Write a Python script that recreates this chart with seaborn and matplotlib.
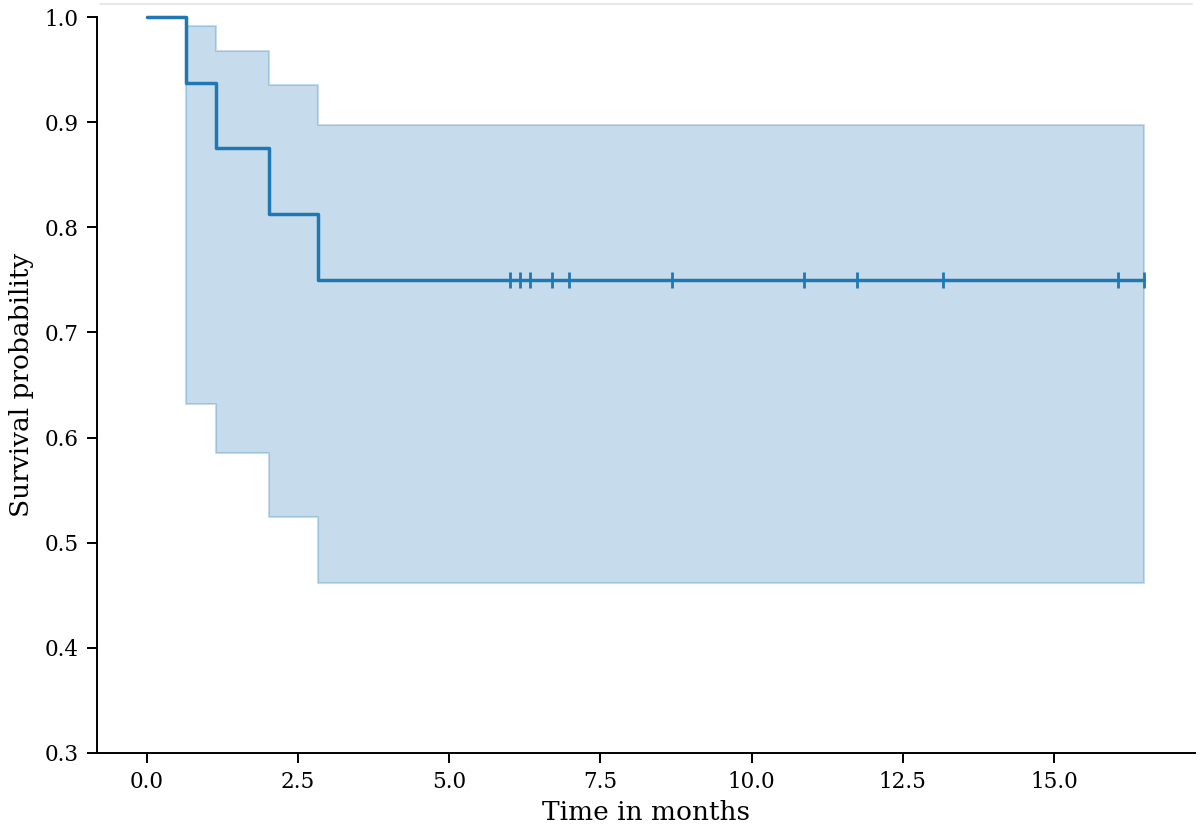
import numpy as np
import pandas as pd
import matplotlib
matplotlib.use("Agg")
import matplotlib.pyplot as plt
import seaborn as sns

# Kaplan-Meier estimate
step_times = [0.0, 0.65, 1.15, 2.02, 2.83, 16.49]
survival = [1.0, 0.9375, 0.875, 0.8125, 0.75, 0.75]
ci_upper = [1.0, 0.991, 0.968, 0.935, 0.897, 0.897]
ci_lower = [1.0, 0.632, 0.585, 0.524, 0.462, 0.462]

# censored observations
censor_times = [6.01, 6.17, 6.34, 6.70, 6.99, 8.69, 10.87, 11.74, 13.16, 16.05, 16.49]
censor_surv = [0.75] * len(censor_times)

sns.set_style("ticks")
plt.rcParams["font.family"] = ["DejaVu Serif"]
plt.rcParams["text.color"] = "black"
plt.rcParams["axes.labelcolor"] = "black"
plt.rcParams["xtick.color"] = "black"
plt.rcParams["ytick.color"] = "black"

blue = "#1f77b4"

fig = plt.figure(figsize=(12, 8.31), dpi=100)
ax = fig.add_axes([0.0808, 0.0939, 0.915, 0.8856])

df = pd.DataFrame({"time": step_times, "surv": survival})
cens = pd.DataFrame({"time": censor_times, "surv": censor_surv})

ax.fill_between(step_times, ci_lower, ci_upper, step="post", color=blue,
                alpha=0.25, linewidth=1.5, clip_on=False)
sns.lineplot(data=df, x="time", y="surv", drawstyle="steps-post", estimator=None,
             color=blue, linewidth=2.5, ax=ax, clip_on=False)
sns.scatterplot(data=cens, x="time", y="surv", marker="|", s=120, linewidth=2,
                color=blue, ax=ax, zorder=3)

ax.set_xlim(-0.82, 17.33)
ax.set_ylim(0.3, 1.0)
ax.set_xticks(np.arange(0, 16, 2.5))
ax.set_yticks(np.arange(0.3, 1.01, 0.1))
ax.set_xlabel("Time in months", fontsize=19, labelpad=5)
ax.set_ylabel("Survival probability", fontsize=19, labelpad=8)
ax.tick_params(labelsize=15.5, length=7, width=1.4, pad=6)
for side in ["left", "bottom"]:
    ax.spines[side].set_color("black")
    ax.spines[side].set_linewidth(1.4)
sns.despine(ax=ax)

# faint border line along the top, as in the screenshot
fig.add_artist(plt.Line2D([0.083, 0.993], [0.995, 0.995], color="#e8e8e8", linewidth=1.5))

fig.savefig("out.png", dpi=100)
